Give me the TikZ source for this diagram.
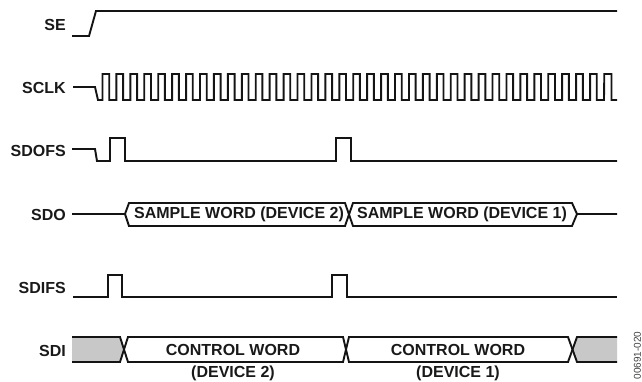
\documentclass[tikz,border=0pt]{standalone}
\usepackage{fontspec}
\setmainfont{Liberation Sans}
\definecolor{wavegray}{RGB}{200,200,200}
\tikzset{
  wave/.style={line width=1.9pt,line join=miter,line cap=butt,black!92},
  siglabel/.style={anchor=east,inner sep=0pt,font=\bfseries\fontsize{16}{18}\selectfont,text=black!90},
  wordlabel/.style={anchor=center,inner sep=0pt,font=\bfseries\fontsize{16}{18}\selectfont,text=black!90}
}
\begin{document}
\begin{tikzpicture}[x=1pt,y=-1pt]
\useasboundingbox (0,0) rectangle (642,381);
% labels
\node[siglabel] (se) at (66,24.5) {SE};
\node[siglabel] (sclk) at (66,87.5) {SCLK};
\node[siglabel] (sdofs) at (66,150.5) {SDOFS};
\node[siglabel] (sdo) at (66,214.5) {SDO};
\node[siglabel] (sdifs) at (66,287.5) {SDIFS};
\node[siglabel] (sdi) at (66,350.5) {SDI};
% SE
\draw[wave] (72,36) -- (89,36) -- (96,11) -- (617,11);
% SCLK
\draw[wave] (73,87) -- (95,87) -- (98,100) -- (102.5,100)
  foreach \i in {0,...,35} { -- ({102.5+13.93*\i},74) -- ({109.2+13.93*\i},74) -- ({109.2+13.93*\i},100) -- ({116.43+13.93*\i},100) }
  -- (604.3,74) -- (611.5,74) -- (611.5,100) -- (617,100);
% SDOFS
\draw[wave] (72,149) -- (95,149) -- (97,161) -- (110,161) -- (110,138) -- (125,138) -- (125,161)
  -- (336,161) -- (336,138) -- (351,138) -- (351,161) -- (617,161);
% SDO
\draw[wave] (72,214) -- (125,214) -- (129,203) -- (345,203) -- (353,226) -- (572,226) -- (577,214) -- (617,214);
\draw[wave] (125,214) -- (129,226) -- (345,226) -- (353,203) -- (572,203) -- (577,214);
\node[wordlabel] (w2) at (239,214.5) {SAMPLE WORD (DEVICE 2)};
\node[wordlabel] (w1) at (462,214.5) {SAMPLE WORD (DEVICE 1)};
% SDIFS
\draw[wave] (73,297) -- (108,297) -- (108,275) -- (122,275) -- (122,297)
  -- (332,297) -- (332,275) -- (347,275) -- (347,297) -- (617,297);
% SDI
\fill[wavegray] (72,337) -- (120,337) -- (124,349.5) -- (120,362) -- (72,362) -- cycle;
\fill[wavegray] (617,337) -- (577,337) -- (573,349.5) -- (577,362) -- (617,362) -- cycle;
\draw[wave] (72,337) -- (120,337) -- (128,362) -- (343,362) -- (349,337) -- (568,337) -- (577,362) -- (617,362);
\draw[wave] (72,362) -- (120,362) -- (128,337) -- (343,337) -- (349,362) -- (568,362) -- (577,337) -- (617,337);
\node[wordlabel] (c2) at (233,350) {CONTROL WORD};
\node[wordlabel] (c1) at (458,350) {CONTROL WORD};
\node[wordlabel] (d2) at (233,373.5) {(DEVICE 2)};
\node[wordlabel] (d1) at (458,373.5) {(DEVICE 1)};
% figure number
\node[rotate=90,anchor=east,inner sep=0pt,font=\fontsize{10}{12}\selectfont,text=black!75] (fig) at (637.5,331.5) {00691-020};
\end{tikzpicture}
\end{document}
